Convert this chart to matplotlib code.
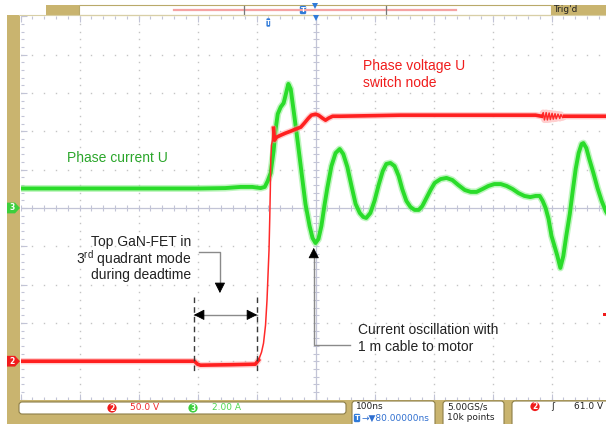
import numpy as np
import matplotlib.pyplot as plt
from matplotlib.patches import Rectangle, FancyBboxPatch, Polygon, Circle
from matplotlib.transforms import blended_transform_factory

plt.rcParams['font.family'] = ['Liberation Sans', 'DejaVu Sans']
plt.rcParams['mathtext.fontset'] = 'custom'
plt.rcParams['mathtext.rm'] = 'Liberation Sans'

# scope settings
NS_PER_DIV = 100
CH2_V_PER_DIV = 50.0
CH3_A_PER_DIV = 2.0
CH2_POS = -4.0          # ground marker of channel 2, in divisions
CH3_POS = 0.0
TRIG_LEVEL_V = 61.0
TRIG_DELAY_NS = -80.0

# channel 3: phase current U
cur_t = [-500, -364, -195, -153, -127, -107, -93, -86, -81, -76, -71, -68, -64, -59,
         -54, -51, -46, -42, -37, -31, -24, -17, -10, -5, 0, 5, 10, 15, 20, 27, 34,
         41, 47, 54, 61, 68, 75, 81, 86, 93, 100, 107, 114, 120, 127, 134, 141, 147,
         154, 161, 168, 175, 181, 188, 195, 202, 212, 222, 232, 242, 253, 263, 273,
         283, 293, 303, 314, 324, 334, 344, 354, 364, 373, 380, 385, 390, 395, 400,
         405, 410, 415, 420, 425, 431, 436, 441, 446, 451, 454, 459, 464, 471, 478,
         485, 492, 497]
cur_a = [1.02, 1.02, 1.02, 1.04, 1.10, 1.10, 1.04, 1.10, 1.41, 1.83, 2.98, 4.02, 4.91,
         5.27, 5.48, 5.85, 6.48, 6.21, 5.07, 3.66, 1.93, 0.21, -0.94, -1.57, -1.83,
         -1.62, -0.94, 0.10, 1.04, 2.19, 2.87, 3.08, 2.82, 2.14, 1.15, 0.21, -0.26,
         -0.47, -0.52, -0.26, 0.37, 1.20, 1.93, 2.30, 2.35, 2.19, 1.67, 0.99, 0.37,
         0.05, -0.10, -0.10, 0.10, 0.52, 0.94, 1.31, 1.51, 1.57, 1.46, 1.20, 0.94,
         0.84, 0.84, 0.99, 1.15, 1.25, 1.25, 1.15, 0.99, 0.78, 0.63, 0.57, 0.63, 0.63,
         0.37, 0.0, -0.57, -1.46, -1.98, -2.51, -3.13, -2.51, -1.46, -0.31, 0.89, 2.04,
         2.87, 3.34, 3.39, 3.13, 2.56, 1.83, 1.04, 0.37, -0.16, -0.42]

# channel 2: phase voltage U at the switch node
volt_t = [-500, -212, -205, -200, -195, -144, -102, -96.6, -91.5, -88.1, -84.7, -82.2,
          -80.5, -78.8, -77.6, -76.6, -75.8, -74.6, -72.9, -71.2, -69.5, -66.1, -59,
          -51, -42, -34, -25, -19, -12, -7, 0, 5, 12, 17, 22, 29, 42, 144, 280, 373,
          383, 386, 388, 391, 393, 396, 398, 401, 403, 406, 408, 411, 414, 416, 419,
          422, 449, 497]
volt_v = [0, 0, 0, -3.9, -5.2, -4.6, -3.9, 1.3, 11.7, 23.5, 47.0, 79.6, 112.3, 144.9,
          184.1, 223.2, 262.4, 282.0, 288.5, 304.2, 288.5, 292.4, 295.0, 297.7, 300.3,
          302.9, 305.5, 310.7, 317.2, 321.2, 322.5, 321.2, 317.2, 314.6, 317.2, 319.8,
          319.8, 321.2, 321.2, 321.2, 319.8, 324.5, 315.0, 324.5, 315.0, 324.0, 315.5,
          323.5, 316.0, 323.0, 316.5, 322.5, 317.0, 322.0, 318.0, 319.8, 319.8, 319.8]

# fast edge and ringing burst of the switch node, drawn with a thin beam
EDGE_START, EDGE_END = -96, -72
RING_START, RING_END = 383, 422

TAN = '#c9b46f'
GRID = '#c4c4c4'
AXIS = '#c2c4d6'

fig = plt.figure(figsize=(6.06, 4.24), dpi=100)
fig.patch.set_facecolor('white')
ax = fig.add_axes([20.5 / 606, 24.5 / 424, 590 / 606, 383 / 424])
ax.set_xlim(-5 * NS_PER_DIV, 5 * NS_PER_DIV)
ax.set_ylim(-5, 5)
ax.axis('off')

# graticule
minor_x = np.arange(-500, 501, NS_PER_DIV / 5)
minor_y = np.arange(-5, 5.01, 0.2)
for gx in np.arange(-400, 401, NS_PER_DIV):
    if gx != 0:
        ax.plot(np.full(minor_y.size, gx), minor_y, ls='none', marker='s', ms=1.0,
                mew=0, color=GRID, zorder=1)
for gy in range(-4, 5):
    if gy != 0:
        ax.plot(minor_x, np.full(minor_x.size, float(gy)), ls='none', marker='s', ms=1.0,
                mew=0, color=GRID, zorder=1)
ax.axhline(0, color=AXIS, lw=0.9, zorder=1)
ax.axvline(0, color=AXIS, lw=0.9, zorder=1)
ax.plot(minor_x, np.zeros(minor_x.size), ls='none', marker='|', ms=4, mew=0.8,
        color=AXIS, zorder=1)
ax.plot(np.zeros(minor_y.size), minor_y, ls='none', marker='_', ms=4, mew=0.8,
        color=AXIS, zorder=1)
# edge rulers
major_x = np.arange(-500, 501, NS_PER_DIV)
for xs, size in ((minor_x, 2.5), (major_x, 4.5)):
    ax.plot(xs, np.full(xs.size, 5.0), ls='none', marker=3, ms=size, mew=0.8,
            color=AXIS, clip_on=False, zorder=1)
    ax.plot(xs, np.full(xs.size, -5.0), ls='none', marker=2, ms=size, mew=0.8,
            color=AXIS, clip_on=False, zorder=1)
for ys, size in ((minor_y, 2.5), (np.arange(-5, 6, 1.0), 4.5)):
    ax.plot(np.full(ys.size, -500.0), ys, ls='none', marker=1, ms=size, mew=0.8,
            color=AXIS, clip_on=False, zorder=1)

# traces with persistence glow
cur_t_arr = np.array(cur_t, dtype=float)
cur_div = np.array(cur_a) / CH3_A_PER_DIV + CH3_POS
volt_t_arr = np.array(volt_t, dtype=float)
volt_div = np.array(volt_v) / CH2_V_PER_DIV + CH2_POS

ax.plot(cur_t_arr, cur_div, color='#8cee8c', lw=5.0, alpha=0.55, solid_capstyle='round', zorder=3)
ax.plot(cur_t_arr, cur_div, color='#2adc2a', lw=2.8, zorder=3)

on_edge = (volt_t_arr > EDGE_START) & (volt_t_arr < EDGE_END)
on_ring = (volt_t_arr > RING_START) & (volt_t_arr < RING_END)
glow = np.where(on_edge, np.nan, volt_div)
beam = np.where(on_edge | on_ring, np.nan, volt_div)
ax.plot(volt_t_arr, glow, color='#ffa0a0', lw=4.6, alpha=0.5, solid_capstyle='round', zorder=4)
ax.plot(volt_t_arr, volt_div, color='#ff2a2a', lw=1.1, zorder=4)
ax.plot(volt_t_arr, beam, color='#ff2020', lw=2.6, zorder=4)

# trace labels
ax.text(-422, 1.31, 'Phase current U', color='#2ba62b', fontsize=10, va='center', zorder=6)
ax.text(80, 3.71, 'Phase voltage U', color='#f01c1c', fontsize=10, va='center', zorder=6)
ax.text(80, 3.26, 'switch node', color='#f01c1c', fontsize=10, va='center', zorder=6)

# callouts
LINE = '#8a8a8a'


def head(x0, y0, x1, y1):
    ax.annotate('', xy=(x1, y1), xytext=(x0, y0), zorder=8,
                arrowprops=dict(arrowstyle='-|>,head_length=0.65,head_width=0.33',
                                color='black', lw=0.6, shrinkA=0, shrinkB=0))


for i, line in enumerate(['Top GaN-FET in', '3$^{\\mathrm{rd}}$ quadrant mode',
                          'during deadtime']):
    ax.text(-211, -0.88 - 0.435 * i, line, fontsize=10, ha='right', va='center',
            color='#222222', zorder=6)
ax.plot([-197.5, -162, -162], [-1.15, -1.15, -2.0], color=LINE, lw=1, zorder=7)
head(-162, -2.0, -162, -2.22)

for tx in (-206, -99):
    ax.plot([tx, tx], [-2.32, -4.31], color='#3a3a3a', lw=1, dashes=(4, 3), zorder=7)
ax.plot([-206, -99], [-2.79, -2.79], color=LINE, lw=1, zorder=7)
head(-190, -2.79, -206, -2.79)
head(-115, -2.79, -99, -2.79)

ax.text(72, -3.19, 'Current oscillation with', fontsize=10, va='center', color='#222222', zorder=6)
ax.text(72, -3.63, '1 m cable to motor', fontsize=10, va='center', color='#222222', zorder=6)
ax.plot([58.5, -3, -3], [-3.58, -3.58, -1.27], color=LINE, lw=1, zorder=7)
head(-3, -1.27, -3, -1.04)

# frame and readouts, in figure pixels
ov = fig.add_axes([0, 0, 1, 1], zorder=5)
ov.set_xlim(0, 606)
ov.set_ylim(424, 0)
ov.axis('off')
SMALL = dict(family='DejaVu Sans', fontsize=6.5, va='center')


def rect(x0, y0, x1, y1, **kw):
    ov.add_patch(Rectangle((x0, y0), x1 - x0, y1 - y0, **kw))


def box(x0, y0, x1, y1):
    ov.add_patch(FancyBboxPatch((x0, y0), x1 - x0, y1 - y0,
                                boxstyle='round,pad=0,rounding_size=3',
                                fc='white', ec='#8c7e48', lw=0.8))


def badge(x, y, digit, color):
    ov.add_patch(Circle((x, y), 4.6, fc=color, ec='none'))
    ov.text(x, y + 0.3, digit, color='white', ha='center', fontsize=5.5,
            fontweight='bold', family='DejaVu Sans', va='center')


def t_icon(trans, x, y):
    ov.add_patch(FancyBboxPatch((x - 3.2, y - 4.2), 6.4, 8.4, transform=trans,
                                boxstyle='round,pad=0,rounding_size=1.5',
                                fc='#2f7ad9', ec='none'))
    ov.text(x, y + 0.3, 'T', transform=trans, color='white', ha='center', va='center',
            fontsize=5, fontweight='bold', family='DejaVu Sans')


# top record bar
rect(46, 5, 79, 15, fc=TAN, ec='none')
rect(79, 5, 551, 15, fc='white', ec='#b9a96a', lw=0.8)
rect(551, 5, 606, 15, fc=TAN, ec='none')
ov.text(553, 10, "Trig'd", color='#222222', **SMALL)
ov.plot([174, 456], [9.5, 9.5], color='#f5a3a3', lw=1.6)
for bx in (244, 386):
    ov.plot([bx, bx], [5.5, 14.5], color='#777777', lw=0.9)
t_icon(ov.transData, 303, 10)
ov.plot([315], [6], marker='v', ms=4, color='#2f7ad9', mew=0)
ov.plot([19, 606], [15.3, 15.3], color='#d8cfa6', lw=0.8)

# side bar and bottom readout panel
rect(7, 15, 19.5, 424, fc=TAN, ec='none')
rect(7, 400, 606, 424, fc=TAN, ec='none')
box(19, 402, 346, 414)
badge(112, 408, '2', '#f01c1c')
ov.text(130, 408, f'{CH2_V_PER_DIV:.1f} V', color='#f02a2a', **SMALL)
badge(193, 408, '3', '#3ccf3c')
ov.text(212, 408, f'{CH3_A_PER_DIV:.2f} A', color='#4fd84f', **SMALL)

box(352, 401, 435, 430)
ov.text(356, 406.5, f'{NS_PER_DIV}ns', color='#222222', **SMALL)
t_icon(ov.transData, 357, 418)
ov.text(361.5, 418, f'→▼{-TRIG_DELAY_NS:.5f}ns', color='#2f6fd0', **SMALL)
box(443, 401, 504, 430)
ov.text(447, 406.5, '5.00GS/s', color='#222222', **SMALL)
ov.text(447, 418, '10k points', color='#222222', **SMALL)
box(512, 401, 620, 430)
badge(535, 406.5, '2', '#f01c1c')
ov.text(551, 406.5, 'ʃ', color='#222222', **SMALL)
ov.text(574, 406.5, f'{TRIG_LEVEL_V:.1f} V', color='#222222', **SMALL)

# channel ground markers, trigger markers
side = blended_transform_factory(ov.transData, ax.transData)
for pos, digit, color in ((CH3_POS, '3', '#3ccf3c'), (CH2_POS, '2', '#f01c1c')):
    h = 0.14
    ov.add_patch(Polygon([(7, pos - h), (15, pos - h), (20, pos), (15, pos + h), (7, pos + h)],
                         closed=True, transform=side, fc=color, ec='none'))
    ov.text(12.5, pos, digit, transform=side, color='white', ha='center', va='center',
            fontsize=5.5, fontweight='bold', family='DejaVu Sans')
trig_y = TRIG_LEVEL_V / CH2_V_PER_DIV + CH2_POS
ov.add_patch(Rectangle((603, trig_y - 0.05), 4, 0.1, transform=side, fc='#f01c1c', ec='none'))

top = blended_transform_factory(ax.transData, ov.transData)
t_icon(top, TRIG_DELAY_NS, 22.5)
ov.plot([0], [18], marker='v', ms=4, mew=0, color='#2f7ad9', transform=top)

fig.savefig('out.png', dpi=100)
